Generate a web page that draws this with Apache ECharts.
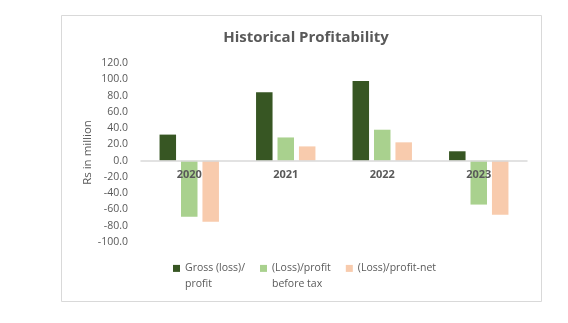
<!DOCTYPE html>
<html>
<head>
<meta charset="utf-8">
<script src="https://cdn.jsdelivr.net/npm/echarts@6/dist/echarts.min.js"></script>
<style>
  html, body { margin: 0; padding: 0; background: #ffffff; }
  #chart { width: 568px; height: 323px; }
</style>
</head>
<body>
<div id="chart"></div>
<script>
// Years shown along the category axis
var years = ['2020', '2021', '2022', '2023'];

// Series names as shown in the legend
var seriesNames = ['Gross (loss)/profit', '(Loss)/profit before tax', '(Loss)/profit-net'];

// Values in Rs million
var grossProfit = [32, 84, 98, 11.5];
var profitBeforeTax = [-69, 28.5, 38, -54];
var profitNet = [-75, 17.5, 22.5, -66.5];

// Value axis range
var yMin = -100;
var yMax = 120;
var yStep = 20;

var colors = ['#375623', '#A9D18E', '#F8CBAD'];
var textGrey = '#595959';
var fontFamily = '"Open Sans", "Liberation Sans", sans-serif';

// Legend labels wrapped onto two lines; a leading blank line keeps the
// first text line level with the colour swatch.
var legendLabels = {};
legendLabels[seriesNames[0]] = '\nGross (loss)/\nprofit';
legendLabels[seriesNames[1]] = '\n(Loss)/profit\nbefore tax';
legendLabels[seriesNames[2]] = '\n(Loss)/profit-net\n';

// Plot area
var gridTop = 63;
var gridBottom = 81;
var gridHeight = 323 - gridTop - gridBottom;
// Category axis sits on the zero line, labels included
var zeroOffset = -gridHeight * (0 - yMin) / (yMax - yMin);

var chart = echarts.init(document.getElementById('chart'), null, { renderer: 'canvas' });

var seriesData = [grossProfit, profitBeforeTax, profitNet];
var series = seriesNames.map(function (name, i) {
  return {
    name: name,
    type: 'bar',
    data: seriesData[i],
    barWidth: 16.5,
    barGap: '30%',
    itemStyle: { color: colors[i] },
    z: 2
  };
});

chart.setOption({
  animation: false,
  backgroundColor: '#ffffff',
  graphic: [{
    type: 'rect',
    shape: { x: 61.5, y: 15.5, width: 480, height: 286 },
    style: { fill: 'none', stroke: '#D9D9D9', lineWidth: 1 },
    z: -10,
    silent: true
  }],
  title: {
    text: 'Historical Profitability',
    left: 301,
    textAlign: 'center',
    top: 25,
    textStyle: {
      color: textGrey,
      fontFamily: fontFamily,
      fontSize: 15,
      fontWeight: 'bold'
    }
  },
  legend: {
    data: seriesNames,
    left: 173,
    top: 245,
    padding: 0,
    itemWidth: 7,
    itemHeight: 7,
    itemGap: 15,
    icon: 'rect',
    formatter: function (name) { return legendLabels[name]; },
    textStyle: {
      color: textGrey,
      fontFamily: fontFamily,
      fontSize: 10.5,
      lineHeight: 15.6
    }
  },
  grid: {
    left: 141,
    right: 41,
    top: gridTop,
    bottom: gridBottom,
    containLabel: false
  },
  xAxis: {
    type: 'category',
    data: years,
    z: 5,
    offset: zeroOffset,
    axisLine: { onZero: false, lineStyle: { color: '#D9D9D9', width: 1.5 } },
    axisTick: { show: false },
    axisLabel: {
      color: textGrey,
      fontFamily: fontFamily,
      fontSize: 11,
      fontWeight: 'bold',
      margin: 9
    }
  },
  yAxis: {
    type: 'value',
    min: yMin,
    max: yMax,
    interval: yStep,
    name: 'Rs in million',
    nameLocation: 'middle',
    nameGap: 47,
    nameMoveOverlap: false,
    nameTextStyle: {
      color: textGrey,
      fontFamily: fontFamily,
      fontSize: 11.5
    },
    axisLine: { show: false },
    axisTick: { show: false },
    splitLine: { show: false },
    axisLabel: {
      color: textGrey,
      fontFamily: fontFamily,
      fontSize: 10.5,
      margin: 13,
      formatter: function (v) { return v.toFixed(1); }
    }
  },
  series: series
});
</script>
</body>
</html>
